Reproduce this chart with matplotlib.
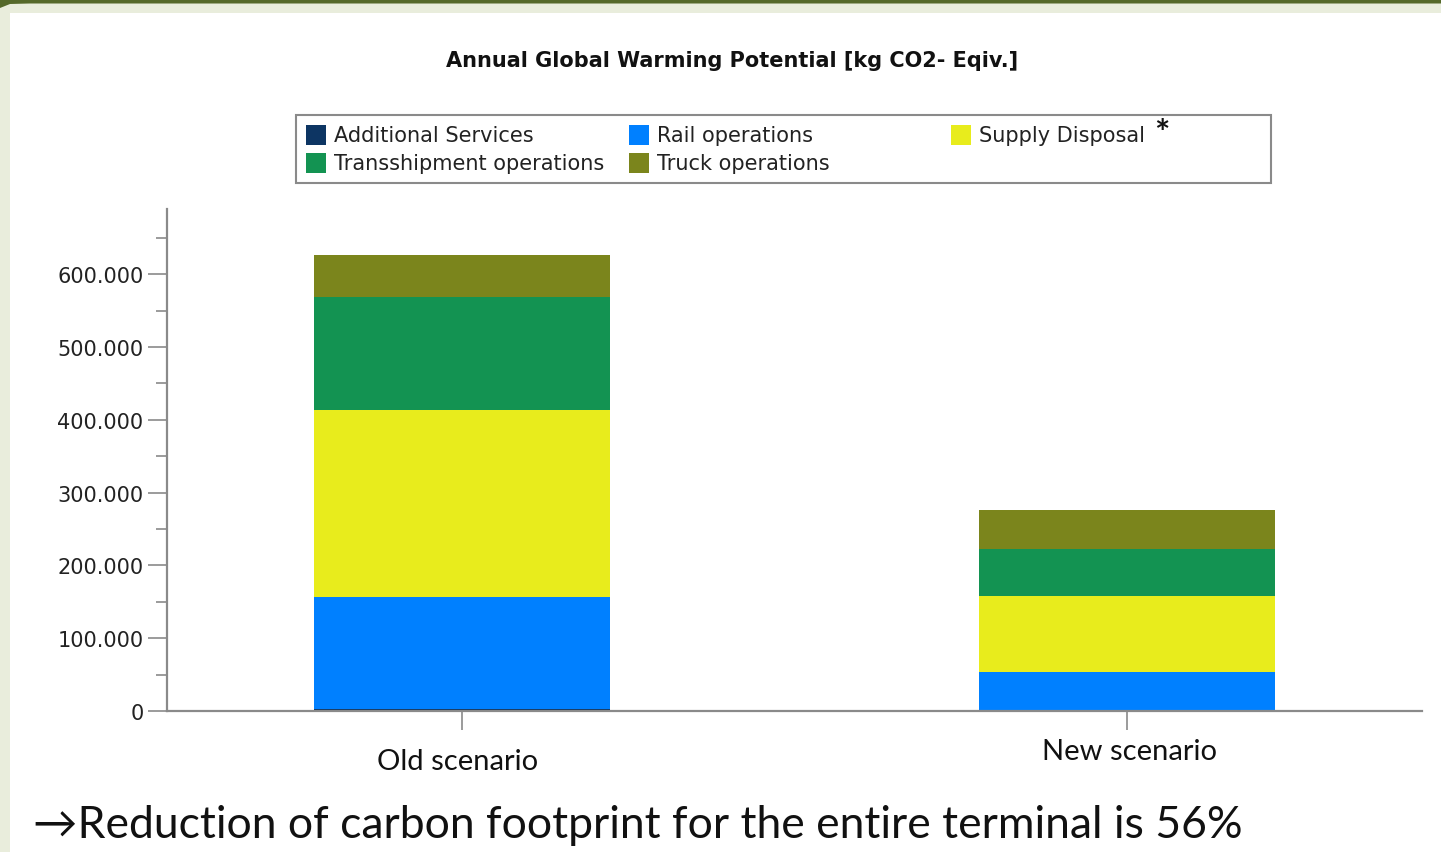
import matplotlib
matplotlib.use("Agg")
import matplotlib.pyplot as plt
from matplotlib.patches import Rectangle, Polygon
from matplotlib.ticker import FuncFormatter, MultipleLocator
import numpy as np

# ---- data -------------------------------------------------------------
scenarios = ["Old scenario", "New scenario"]
series = ["Additional Services", "Rail operations", "Supply Disposal",
          "Transshipment operations", "Truck operations"]
additional_services = [2500, 1000]
rail_operations = [154000, 52600]
supply_disposal = [257000, 104000]
transshipment_operations = [155000, 65000]
truck_operations = [57700, 53600]
colors = ["#0d3563", "#0080ff", "#e8ec1c", "#139352", "#7b851c"]
legend_order = ["Additional Services", "Transshipment operations",
                "Rail operations", "Truck operations", "Supply Disposal"]

title = "Annual Global Warming Potential [kg CO2- Eqiv.]"
note = "\u2192Reduction of carbon footprint for the entire terminal is 56%"

values = [additional_services, rail_operations, supply_disposal,
          transshipment_operations, truck_operations]

W, H = 1441, 853
fig = plt.figure(figsize=(W / 100, H / 100), dpi=100)
fig.patch.set_facecolor("white")


def fx(px):
    return px / W


def fy(py):
    return 1 - py / H


# slide frame: light side strip and dark top band
fig.patches.append(Rectangle((0, 0), fx(10), 1, transform=fig.transFigure,
                             facecolor="#e9eddc", edgecolor="none", zorder=0))
fig.patches.append(Rectangle((0, fy(14)), 1, fy(0) - fy(14), transform=fig.transFigure,
                             facecolor="#e9eddc", edgecolor="none", zorder=0))
band = [(fx(0), fy(9)), (fx(10), fy(5)), (fx(30), fy(4.5)), (fx(W), fy(4.5)),
        (fx(W), fy(0)), (fx(0), fy(0))]
fig.patches.append(Polygon(band, closed=True, transform=fig.transFigure,
                           facecolor="#55692a", edgecolor="none", zorder=1))

# ---- chart ------------------------------------------------------------
ax = fig.add_axes([fx(167), fy(712), fx(1422) - fx(167), fy(210) - fy(712)])
x = np.arange(len(scenarios))
bottom = np.zeros(len(scenarios))
for name, vals, col in zip(series, values, colors):
    ax.bar(x, vals, width=0.445, bottom=bottom, color=col, label=name,
           edgecolor="none", zorder=2)
    bottom += np.array(vals)

ax.set_xlim(-0.4436, 1.4436)
ax.set_ylim(0, 689500)
ax.yaxis.set_major_locator(MultipleLocator(100000))
ax.yaxis.set_minor_locator(MultipleLocator(50000))
ax.yaxis.set_major_formatter(FuncFormatter(lambda v, p: f"{int(round(v)):,}".replace(",", ".")))
ax.set_xticks(x)
ax.set_xticklabels([])

for s in ["top", "right"]:
    ax.spines[s].set_visible(False)
for s in ["left", "bottom"]:
    ax.spines[s].set_color("#8a8a8a")
    ax.spines[s].set_linewidth(1.6)
ax.tick_params(axis="y", which="major", length=14, width=1.2, color="#8a8a8a",
               labelsize=15, labelcolor="#222222", pad=3)
ax.tick_params(axis="y", which="minor", length=8, width=1.2, color="#8a8a8a")
ax.tick_params(axis="x", which="major", length=14, width=1.2, color="#8a8a8a")
for lab in ax.get_yticklabels():
    lab.set_fontfamily("DejaVu Sans")

# category labels in the slide font
fig.text(fx(458), fy(762), scenarios[0], ha="center", va="center",
         fontsize=21, family=["Lato", "DejaVu Sans"], color="#111111")
fig.text(fx(1130), fy(752), scenarios[1], ha="center", va="center",
         fontsize=21, family=["Lato", "DejaVu Sans"], color="#111111")

# title
fig.text(fx(732), fy(61), title, ha="center", va="center", fontsize=15,
         fontweight="bold", family="DejaVu Sans", color="#111111")

# legend box
fig.patches.append(Rectangle((fx(296), fy(184)), fx(1271) - fx(296), fy(116) - fy(184),
                             transform=fig.transFigure, facecolor="white",
                             edgecolor="#8a8a8a", linewidth=1.5, zorder=3))
col_x = [306, 629, 951]
row_y = [136, 164]
color_of = dict(zip(series, colors))
for i, name in enumerate(legend_order):
    c, r = divmod(i, 2)
    px, py = col_x[c], row_y[r]
    fig.patches.append(Rectangle((fx(px), fy(py + 10)), fx(20), fy(0) - fy(20),
                                 transform=fig.transFigure, facecolor=color_of[name],
                                 edgecolor="none", zorder=4))
    fig.text(fx(px + 28), fy(py), name, ha="left", va="center", fontsize=15,
             family="DejaVu Sans", color="#222222", zorder=5)
fig.text(fx(1162), fy(134), "*", ha="center", va="center", fontsize=26,
         fontweight="bold", family=["Lato", "DejaVu Sans"], color="#111111", zorder=5)

# bottom note
fig.text(fx(33), fy(826), note, ha="left", va="center", fontsize=32,
         family=["Lato", "DejaVu Sans"], color="#111111")

fig.savefig("out.png", dpi=100, facecolor=fig.get_facecolor())
